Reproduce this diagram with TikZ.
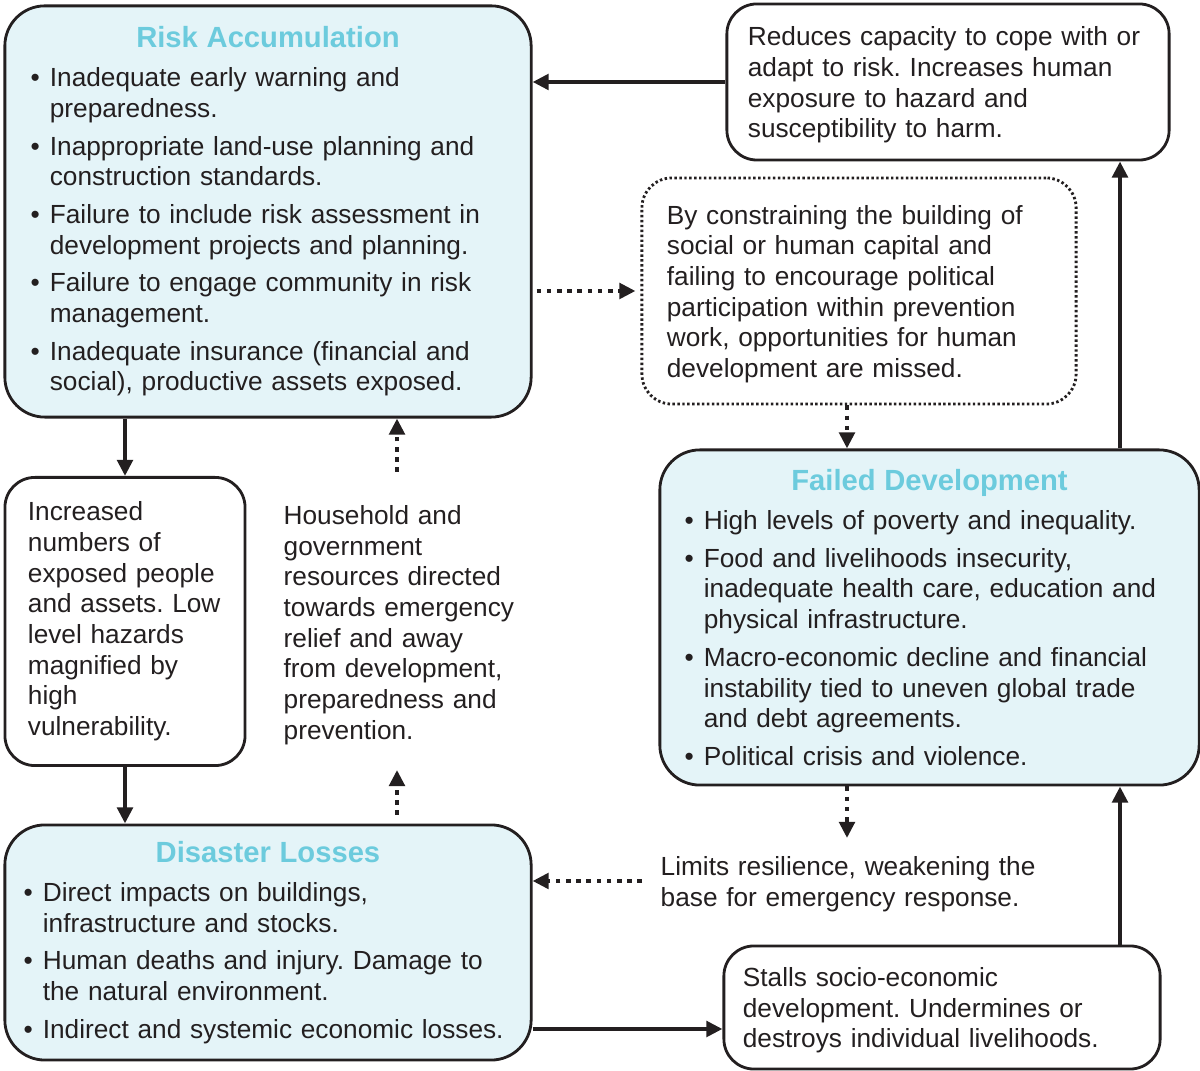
\documentclass[tikz,border=0pt]{standalone}
\usepackage{fontspec}
\setmainfont{Liberation Sans}
\usepackage{enumitem}
\usepackage{tikz}
\usetikzlibrary{positioning, arrows.meta, calc}

\definecolor{panelfill}{HTML}{E4F4F8}
\definecolor{headcyan}{HTML}{6CCBDD}
\definecolor{inkgrey}{HTML}{231F20}

\frenchspacing
\newcommand{\paneltitle}[1]{{\centering\fontsize{8.3}{9.5}\selectfont\bfseries\color{headcyan}#1\par}}
\newcommand{\toppad}{\rule{0pt}{0.25cm}}
\newenvironment{bulletlist}{\begin{itemize}[label=\textbullet, leftmargin=0.2cm, labelsep=0.1cm,
    topsep=2.4pt, itemsep=2.0pt, parsep=0pt, partopsep=0pt]}{\end{itemize}}

\begin{document}
\begin{tikzpicture}[
    x=0.01cm, y=-0.01cm,
    font=\fontsize{7.46}{8.72}\selectfont\frenchspacing, text=inkgrey,
    panel/.style={
        rectangle, rounded corners=0.4cm, draw=inkgrey, line width=0.8pt,
        fill=panelfill, align=left, inner sep=0pt
    },
    note/.style={
        rectangle, rounded corners=0.3cm, draw=inkgrey, line width=0.8pt,
        fill=white, align=left, inner sep=0pt
    },
    dotnote/.style={note, dash pattern=on 0.7pt off 0.7pt},
    plain/.style={align=left, inner sep=0pt},
    arrow/.style={-{Triangle[length=4.6pt, width=4.4pt]}, line width=1.2pt, draw=inkgrey},
    dotarrow/.style={arrow, line width=1.3pt, dash pattern=on 1.3pt off 1.6pt}
]
\useasboundingbox (0,0) rectangle (1200,1071);

% Left column: accumulation, exposure, losses
\node[panel, text width=4.76cm, minimum width=5.26cm, minimum height=4.11cm] (risk) at (268,211.5) {%
\paneltitle{Risk Accumulation}
\begin{bulletlist}
\item Inadequate early warning and\\ preparedness.
\item Inappropriate land-use planning and\\ construction standards.
\item Failure to include risk assessment in\\ development projects and planning.
\item Failure to engage community in risk\\ management.
\item Inadequate insurance (financial and\\ social), productive assets exposed.
\end{bulletlist}};

\node[note, text width=1.94cm, minimum width=2.40cm, minimum height=2.88cm] (incr) at (125,621.5)
    {Increased\\ numbers of\\ exposed people\\ and assets. Low\\ level hazards\\ magnified by\\ high\\ vulnerability.};

\node[plain, text width=2.5cm, anchor=west] (house) at (283,625)
    {Household and\\ government\\ resources directed\\ towards emergency\\ relief and away\\ from development,\\ preparedness and\\ prevention.};

\node[panel, text width=4.9cm, minimum width=5.26cm, minimum height=2.35cm] (loss) at (268,942.5) {%
\paneltitle{Disaster Losses}
\begin{bulletlist}
\item Direct impacts on buildings,\\ infrastructure and stocks.
\item Human deaths and injury. Damage to\\ the natural environment.
\item Indirect and systemic economic losses.
\end{bulletlist}};

% Right column: capacity, missed chances, failed development
\node[note, text width=4.0cm, minimum width=4.42cm, minimum height=1.56cm] (reduce) at (948,82)
    {\toppad Reduces capacity to cope with or\\ adapt to risk. Increases human\\ exposure to hazard and\\ susceptibility to harm.};

\node[dotnote, text width=3.84cm, minimum width=4.34cm, minimum height=2.26cm] (miss) at (859,291)
    {\toppad By constraining the building of\\ social or human capital and\\ failing to encourage political\\ participation within prevention\\ work, opportunities for human\\ development are missed.};

\node[panel, text width=4.91cm, minimum width=5.39cm, minimum height=3.35cm] (fail) at (929.5,617.5) {%
\paneltitle{Failed Development}
\begin{bulletlist}
\item High levels of poverty and inequality.
\item Food and livelihoods insecurity,\\ inadequate health care, education and\\ physical infrastructure.
\item Macro-economic decline and financial\\ instability tied to uneven global trade\\ and debt agreements.
\item Political crisis and violence.
\end{bulletlist}};

\node[plain, text width=3.9cm, anchor=west] (limits) at (660,884)
    {Limits resilience, weakening the\\ base for emergency response.};

\node[note, text width=3.98cm, minimum width=4.36cm, minimum height=1.23cm] (stalls) at (942,1007.5)
    {\toppad Stalls socio-economic\\ development. Undermines or\\ destroys individual livelihoods.};

% helper points for the free arrow ends
\coordinate (houseTop) at (397,472);
\coordinate (lossUp) at (397,815);
\coordinate (houseLow) at (397,770);
\coordinate (missOut) at ($(miss.south)+(-12,0)$);
\coordinate (limitsTop) at (847,838);
\coordinate (limitsOut) at (642,881);
\coordinate (lossOut) at (0,1029);
\coordinate (rightline) at (1120,0);

% solid cycle
\draw[arrow] (reduce.west) -- (reduce.west -| risk.east);
\draw[arrow] (risk.south -| incr.north) -- (incr.north);
\draw[arrow] (incr.south) -- (incr.south |- loss.north);
\draw[arrow] (lossOut -| loss.east) -- (lossOut -| stalls.west);
\draw[arrow] (rightline |- stalls.north) -- (rightline |- fail.south);
\draw[arrow] (rightline |- fail.north) -- (rightline |- reduce.south);

% dotted links
\draw[dotarrow] ($(risk.east |- miss.west)+(4,0)$) -- ($(miss.west)+(-5,0)$);
\draw[dotarrow] (houseTop) -- (houseTop |- risk.south);
\draw[dotarrow] (lossUp) -- (houseLow);
\draw[dotarrow] (missOut) -- (missOut |- fail.north);
\draw[dotarrow] (limitsTop |- fail.south) -- (limitsTop);
\draw[dotarrow] (limitsOut) -- (limitsOut -| loss.east);

\end{tikzpicture}
\end{document}
